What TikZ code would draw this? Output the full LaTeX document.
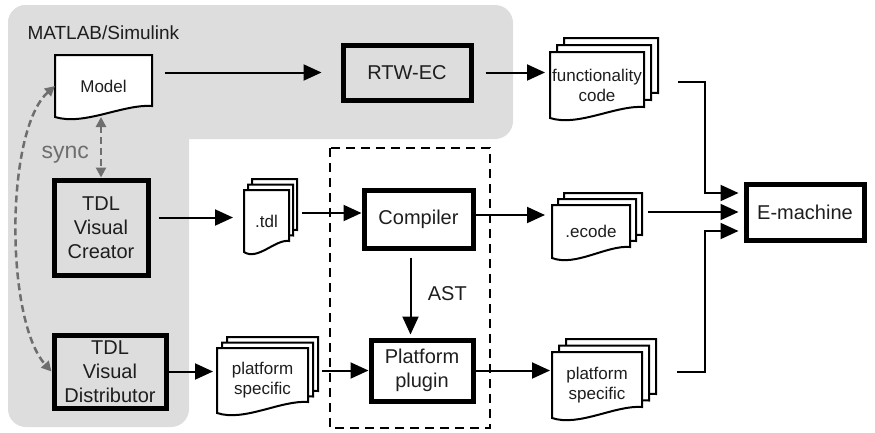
\documentclass[tikz,border=0pt]{standalone}
\usepackage{fontspec}
\setmainfont{Liberation Sans}
\usepackage{tikz}
\usetikzlibrary{arrows.meta, positioning, calc, backgrounds}
\definecolor{simgray}{RGB}{221,221,222}
\definecolor{syncgray}{RGB}{110,110,110}
\definecolor{txt}{RGB}{30,30,30}

\newcommand{\bigtxt}{\fontsize{20}{24}\selectfont}
\newcommand{\doctxt}{\fontsize{17}{20}\selectfont}

% one paper sheet with a wavy bottom, drawn round a node and shifted by (#2,#3)
\newcommand{\sheet}[3]{%
  \filldraw[sheetline] ($(#1.north west)+(#2,#3)$) -- ($(#1.north east)+(#2,#3)$)
    -- ($(#1.south east)+(#2,#3)+(0,-11)$)
    .. controls ($(#1.south west)!0.7!(#1.south east)+(#2,#3)+(0,-13)$)
    and ($(#1.south west)!0.3!(#1.south east)+(#2,#3)+(0,9)$)
    .. ($(#1.south west)+(#2,#3)$) -- cycle;}
\newcommand{\docstack}[3]{\sheet{#1}{2*#2}{2*#3}\sheet{#1}{#2}{#3}\sheet{#1}{0}{0}}

\begin{document}
\begin{tikzpicture}[x=1pt, y=-1pt,
  blk/.style={draw, line width=5pt, align=center, inner sep=0pt, font=\bigtxt, text=txt},
  doc/.style={inner sep=0pt, outer sep=0pt, align=center, font=\doctxt, text=txt},
  arr/.style={-{Triangle[length=18pt,width=16pt]}, line width=2pt},
  syncarr/.style={{Triangle[length=10pt,width=10pt]}-{Triangle[length=10pt,width=10pt]},
    syncgray, line width=2.5pt, dash pattern=on 7pt off 4pt},
  sheetline/.style={fill=white, draw=black, line width=2pt}
]
  \useasboundingbox (0,0) rectangle (875,432);

  % tool boxes
  \node[blk, minimum width=128pt, minimum height=55pt] (rtw) at (407,72.5) {RTW-EC};
  \node[blk, minimum width=94pt, minimum height=95pt] (creator) at (101,227.5) {TDL\\Visual\\Creator};
  \node[blk, minimum width=112pt, minimum height=73pt] (distrib) at (110,371.5) {TDL\\Visual\\Distributor};
  \node[blk, minimum width=109pt, minimum height=58pt] (compiler) at (418.5,219) {Compiler};
  \node[blk, minimum width=102pt, minimum height=61pt] (plugin) at (422,370.5) {Platform\\plugin};
  \node[blk, minimum width=118pt, minimum height=56pt] (emach) at (805,212) {E-machine};

  % documents
  \node[doc, minimum width=97pt, minimum height=62pt] (model) at (103.5,86) {Model};
  \node[doc, minimum width=94pt, minimum height=66pt] (func) at (597,85) {functionality\\code};
  \node[doc, minimum width=45pt, minimum height=62pt] (tdl) at (266.5,221) {.tdl};
  \node[doc, minimum width=78pt, minimum height=53pt] (ecode) at (591,231.5) {.ecode};
  \node[doc, minimum width=91pt, minimum height=65pt] (psin) at (262.5,380.5) {platform\\specific};
  \node[doc, minimum width=90pt, minimum height=66pt] (psout) at (597,385) {platform\\specific};

  \node[anchor=base west, font=\fontsize{19}{22}\selectfont, text=txt] (simulink) at (24,39) {MATLAB/Simulink};
  \node[anchor=base west, font=\fontsize{23}{26}\selectfont, text=syncgray] (sync) at (38,158) {sync};

  \begin{scope}[on background layer]
    \fill[simgray, rounded corners=18pt] (8,5) rectangle (513,139);
    \fill[simgray, rounded corners=18pt] (8,5) rectangle (189,427);
    \sheet{model}{0}{0}
    \docstack{func}{7}{-7}
    \docstack{tdl}{4}{-5.5}
    \docstack{ecode}{6}{-6}
    \docstack{psin}{5}{-5.5}
    \docstack{psout}{7}{-6.5}
  \end{scope}

  \draw[line width=2.5pt, dash pattern=on 9pt off 6pt] (330,148) rectangle (490,428);

  \draw[arr, shorten <=13pt, shorten >=19pt] (rtw.west -| model.east) -- (rtw.west);
  \draw[arr, shorten <=12pt, shorten >=5pt] (rtw.east) -- (rtw.east -| func.west);
  \draw[arr, shorten <=8pt, shorten >=11pt] ([yshift=10pt]creator.east) -- ([yshift=10pt]creator.east -| tdl.west);
  \draw[arr, shorten <=13pt] ([yshift=6pt]compiler.west -| tdl.east) -- ([yshift=6pt]compiler.west);
  \draw[arr, shorten >=7pt] ([yshift=4pt]compiler.east) -- ([yshift=4pt]compiler.east -| ecode.west);
  \draw[arr, shorten <=7pt, shorten >=3pt] ([xshift=-8pt]compiler.south) -- ([xshift=-8pt]compiler.south |- plugin.north)
    node[midway, right=13pt, font=\bigtxt, text=txt] (ast) {AST};
  \draw[arr, shorten >=4pt] (distrib.east) -- (distrib.east -| psin.west);
  \draw[arr, shorten <=14pt] (plugin.west -| psin.east) -- (plugin.west);
  \draw[arr, shorten >=2pt] (plugin.east) -- (plugin.east -| psout.west);

  % into the E-machine
  \draw[arr, shorten >=5pt] ([xshift=34pt,yshift=3pt]func.east) -- ++(27,0) |- ([yshift=19pt]emach.west);
  \draw[arr, shorten <=18pt, shorten >=5pt] (emach.west -| ecode.east) -- (emach.west);
  \draw[arr, shorten >=5pt] ([xshift=35pt,yshift=13pt]psout.east) -- ++(28,0) |- ([yshift=-19pt]emach.west);

  % sync links
  \draw[syncarr] (creator.north |- model.south) -- (creator.north);
  \draw[syncarr] (model.west) .. controls (5,130) and (5,320) .. (distrib.west);
\end{tikzpicture}
\end{document}
